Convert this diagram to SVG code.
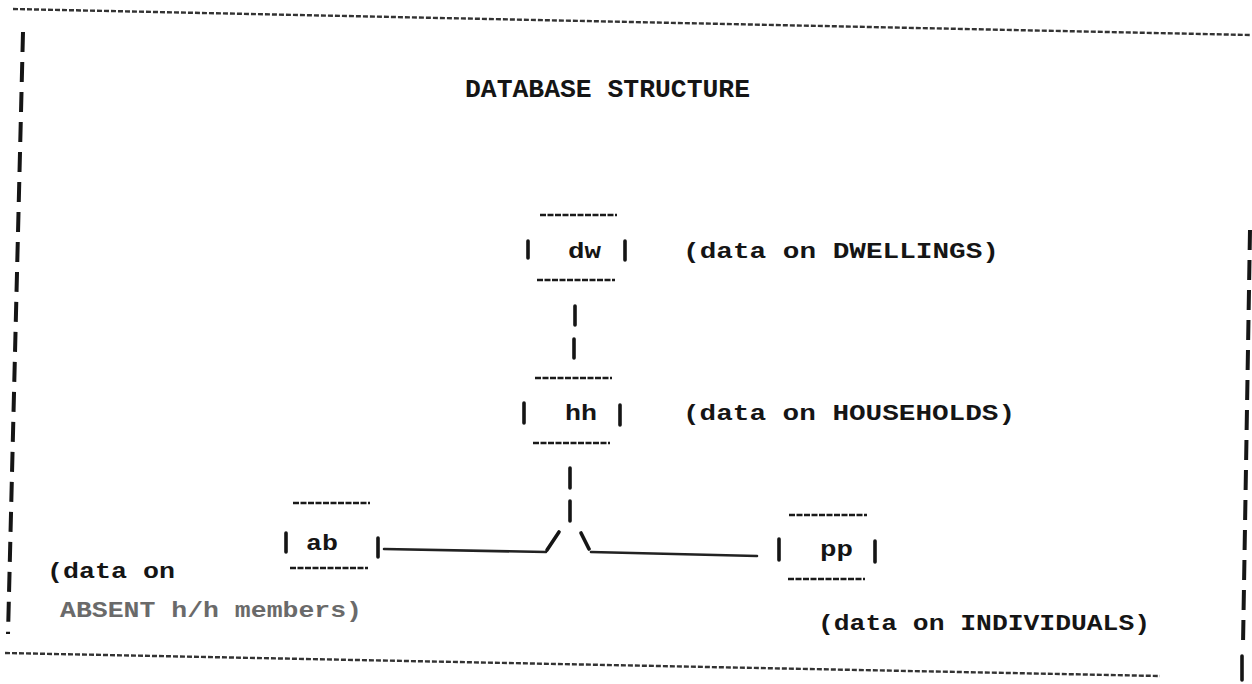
<svg xmlns="http://www.w3.org/2000/svg" width="1252" height="684" viewBox="0 0 1252 684">
<style>
.t{font-family:"Liberation Mono","DejaVu Sans Mono",monospace;font-weight:bold;fill:#151515;font-size:22px}
.title{font-size:25px}
.faint{fill:#6a6a6a}
.dash{stroke:#1a1a1a;stroke-width:2.6;stroke-dasharray:6 1.5;fill:none}
.bar{stroke:#151515;stroke-width:3.6;stroke-linecap:round;fill:none}
.conn{stroke:#222;stroke-width:2.6;fill:none;stroke-linecap:round}
.border{stroke:#333;stroke-width:2.4;stroke-dasharray:5 2;fill:none}
.vborder{stroke:#151515;stroke-width:4;stroke-dasharray:20 10;fill:none}
</style>
<rect width="1252" height="684" fill="#fff"/>
<g id="frame">
<line class="border" x1="13" y1="9" x2="1250" y2="35"/>
<line class="border" x1="5" y1="653" x2="1160" y2="676"/>
<line class="vborder" x1="23" y1="32" x2="8" y2="634"/>
<line class="vborder" x1="1250" y1="230" x2="1243" y2="645"/>
<line class="bar" x1="1242" y1="656" x2="1242" y2="680"/>
</g>
<g id="title"><text class="t title" x="465" y="97" textLength="285" lengthAdjust="spacingAndGlyphs">DATABASE STRUCTURE</text></g>
<g id="node-dw">
<line class="dash" x1="540" y1="215" x2="617" y2="215"/>
<line class="dash" x1="537" y1="280" x2="615" y2="280"/>
<line class="bar" x1="528" y1="241" x2="528" y2="258"/>
<line class="bar" x1="625" y1="241" x2="625" y2="260"/>
<text class="t" x="568" y="258" textLength="33" lengthAdjust="spacingAndGlyphs">dw</text>
<text class="t" x="683" y="258" textLength="316" lengthAdjust="spacingAndGlyphs">(data on DWELLINGS)</text>
</g>
<g id="node-hh">
<line class="dash" x1="535" y1="378" x2="612" y2="378"/>
<line class="dash" x1="533" y1="443" x2="610" y2="443"/>
<line class="bar" x1="524" y1="403" x2="524" y2="423"/>
<line class="bar" x1="620" y1="405" x2="620" y2="425"/>
<text class="t" x="565" y="420" textLength="32" lengthAdjust="spacingAndGlyphs">hh</text>
<text class="t" x="683" y="420" textLength="332" lengthAdjust="spacingAndGlyphs">(data on HOUSEHOLDS)</text>
</g>
<g id="node-ab">
<line class="dash" x1="293" y1="503" x2="370" y2="503"/>
<line class="dash" x1="290" y1="568" x2="368" y2="568"/>
<line class="bar" x1="286" y1="533" x2="286" y2="552"/>
<line class="bar" x1="378" y1="538" x2="378" y2="557"/>
<text class="t" x="306" y="550" textLength="32" lengthAdjust="spacingAndGlyphs">ab</text>
<text class="t" x="47" y="578" textLength="128" lengthAdjust="spacingAndGlyphs">(data on</text>
<text class="t faint" x="60" y="617" textLength="302" lengthAdjust="spacingAndGlyphs">ABSENT h/h members)</text>
</g>
<g id="node-pp">
<line class="dash" x1="789" y1="515" x2="867" y2="515"/>
<line class="dash" x1="788" y1="579" x2="865" y2="579"/>
<line class="bar" x1="779" y1="539" x2="779" y2="560"/>
<line class="bar" x1="875" y1="541" x2="875" y2="562"/>
<text class="t" x="820" y="556" textLength="33" lengthAdjust="spacingAndGlyphs">pp</text>
<text class="t" x="818" y="630" textLength="332" lengthAdjust="spacingAndGlyphs">(data on INDIVIDUALS)</text>
</g>
<g id="connectors">
<line class="bar" x1="575" y1="306" x2="575" y2="325"/>
<line class="bar" x1="574" y1="339" x2="574" y2="358"/>
<line class="bar" x1="570" y1="468" x2="570" y2="488"/>
<line class="bar" x1="570" y1="501" x2="570" y2="521"/>
<line class="conn" x1="384" y1="549" x2="546" y2="552"/>
<line class="bar" x1="547" y1="550" x2="559" y2="532"/>
<line class="bar" x1="581" y1="533" x2="589" y2="549"/>
<line class="conn" x1="591" y1="552" x2="757" y2="556"/>
</g>
</svg>
